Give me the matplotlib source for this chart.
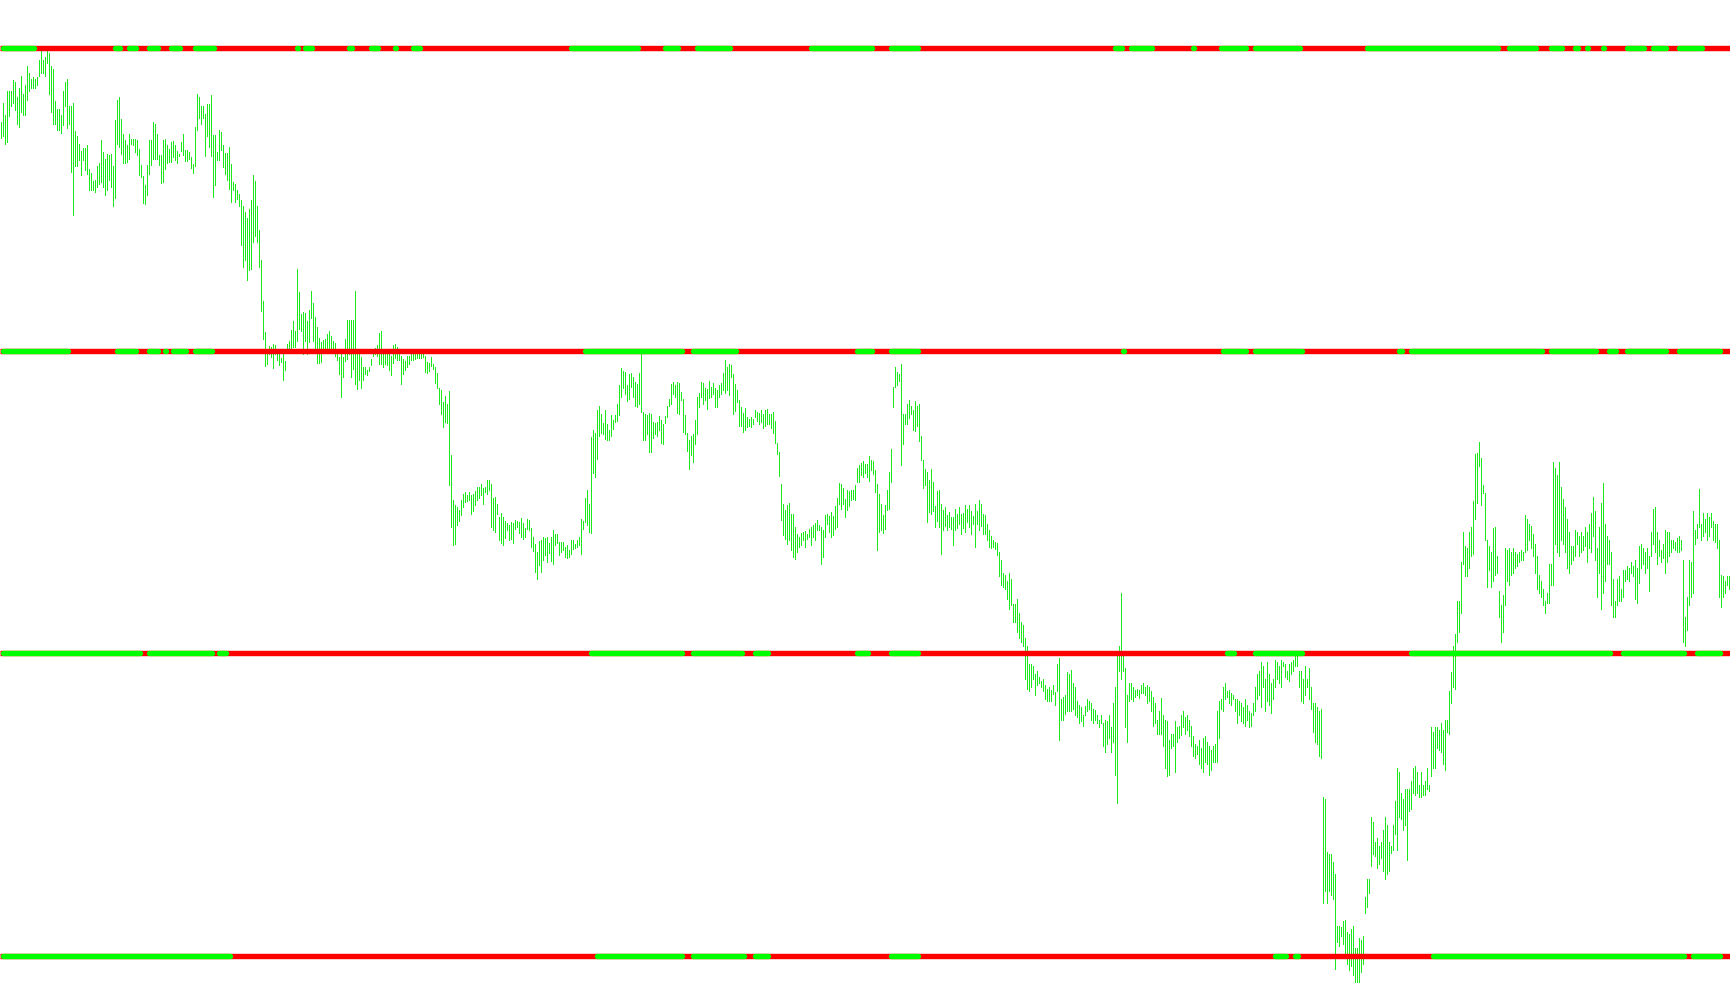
import matplotlib
matplotlib.use("Agg")
import matplotlib.pyplot as plt

# Horizontal level lines (price levels), top to bottom
levels = [400, 300, 200, 100]

# Bar-index ranges where each level line is green (rest is red)
green_runs_400 = [(0, 18), (30, 32), (56, 61), (63, 69), (73, 80), (81, 83), (84, 91), (96, 108),
                  (109, 111), (147, 150), (151, 157), (173, 177), (184, 190), (196, 199), (205, 211),
                  (276, 277), (284, 320), (331, 340), (347, 366), (404, 437), (444, 460), (487, 489),
                  (556, 562), (564, 577), (595, 598), (609, 624), (626, 651), (682, 750), (753, 769),
                  (774, 782), (786, 790), (792, 795), (800, 803), (812, 823), (825, 834), (838, 852)]
green_runs_300 = [(0, 35), (37, 38), (57, 69), (73, 80), (81, 84), (85, 94), (96, 107), (109, 111),
                  (291, 342), (345, 369), (427, 437), (444, 460), (560, 563), (610, 624), (626, 652),
                  (654, 656), (698, 702), (704, 772), (774, 799), (803, 809), (812, 834), (838, 861)]
green_runs_200 = [(0, 71), (73, 107), (108, 114), (294, 342), (345, 372), (376, 385), (427, 435),
                  (444, 460), (560, 561), (612, 618), (626, 652), (654, 656), (698, 700), (704, 806),
                  (810, 843), (847, 861)]
green_runs_100 = [(0, 116), (297, 342), (345, 373), (376, 385), (444, 460), (636, 644), (646, 650),
                  (715, 843), (845, 861)]

# (high, low) of each bar
hl_part1 = [
    (375.6, 370.5), (382, 371), (378, 368.5), (386, 369), (386, 377.6), (386, 381), (389.4, 382), (389, 379.5), (384, 375), (387, 374),
    (391, 379), (385, 378), (388, 378), (394, 383), (392, 386), (390, 387), (390.5, 387), (390, 387), (390.5, 388), (396, 391),
    (399, 392), (396, 392), (397, 391), (399, 395), (398.5, 385), (394, 379), (393, 375), (382.6, 375), (380, 373), (380, 373),
    (378, 372), (386, 374.5), (389, 381), (390, 373.5), (381, 375), (381, 359), (382, 345), (372.6, 361), (371, 361), (368.5, 363),
    (366, 358), (367, 363), (367, 359.7), (368, 358.6), (360, 353), (358.8, 353), (356, 353), (356.4, 352.5), (361, 354), (362, 355),
    (369.8, 355.8), (365.7, 354), (363.5, 351.4), (365, 353), (364.6, 356.6), (365, 354), (361, 348), (376.4, 350.6), (383, 368.5), (384, 367.4),
    (376.7, 365), (371.6, 362), (369.6, 362), (368, 362.4), (371.8, 363.5), (370, 368.5), (370, 368), (370, 365.7), (369.8, 364.6), (366.8, 358),
    (361.3, 357.5), (357.7, 349), (354.7, 348.5), (361.3, 351.4), (369.6, 358.6), (369.8, 361.3), (375.6, 363.5), (375, 363.5), (371.6, 363.5), (364.6, 361.5),
    (364.6, 355.5), (369.6, 355.8), (370, 360), (368, 362), (366.8, 362.4), (369, 362.4), (369.4, 364), (368, 363), (366, 362), (365, 364.3),
    (369, 366), (371.6, 364.6), (366.5, 362.6), (366.5, 362.6), (365.7, 363.5), (364, 360.5), (361.9, 358.8), (374, 361), (384.8, 372.9), (384, 377),
    (381, 375), (380.8, 377), (378.4, 364.3), (381.7, 370.9), (381.5, 367.4), (384.5, 364.3), (371.2, 350.8), (371.2, 354.7), (365.7, 363), (372.9, 363.2),
    (372.3, 366.3), (368, 360.8), (365.4, 358.3), (365.4, 356.6), (367.4, 353.6), (361.9, 349.2), (355.8, 353), (355, 349.2), (353, 350.3), (352, 348),
    (349.8, 335), (348, 327.7), (346, 330), (344, 323.3), (347, 326.6), (350, 327.1), (358, 336), (356, 338), (348, 336), (340, 327.7),
]

hl_part2 = [
    (330.1, 313.1), (316.4, 304.0), (306.2, 294.9), (300.1, 295.7), (301.5, 298.8), (301.2, 297.9), (302.1, 294.4), (301.8, 298.8), (300.4, 296.8), (298.8, 295.2),
    (297.7, 296.3), (299.6, 290.4), (296.6, 293.7), (302.1, 300.4), (303.4, 300.4), (306.8, 299.9), (309.8, 301.2), (306.5, 301.2), (326.9, 303.4), (319.4, 307.3),
    (312.3, 306.5), (312.8, 299.0), (312.5, 303.4), (309.8, 299.0), (313.6, 302.9), (319.8, 310.9), (315.8, 303.4), (311.2, 300.1), (307.9, 295.9), (304.3, 295.9),
    (302.9, 296.3), (303.7, 299.6), (304.0, 299.8), (305.4, 299.6), (306.5, 299.6), (304.8, 300.1), (303.4, 299.6), (302.6, 298.2), (300.4, 296.8), (297.9, 292.4),
    (300.7, 284.7), (297.9, 291.3), (304.0, 296.6), (310.1, 297.4), (310.1, 298.8), (310.1, 291.5), (310.3, 294.1), (319.8, 289.1), (300.1, 287.5), (298.8, 290.4),
    (297.9, 287.8), (294.8, 290.4), (294.6, 292.4), (293.7, 291.9), (294.6, 293.3), (297.4, 295.2), (300.7, 298.2), (301.0, 298.8), (301.8, 298.2), (305.9, 295.7),
    (306.5, 295.5), (299.6, 294.6), (299.6, 295.5), (299.6, 295.2), (300.4, 293.5), (298.2, 291.9), (301.8, 295.9), (302.1, 297.7), (301.2, 296.8), (299.6, 296.8),
    (298.2, 289.1), (297.4, 292.4), (296.6, 293.5), (298.2, 294.6), (298.2, 295.7), (299.0, 296.8), (298.8, 296.8), (299.6, 297.4), (299.0, 297.7), (299.6, 297.7),
    (299.0, 297.7), (299.6, 297.9), (298.2, 293.0), (296.3, 292.6), (295.9, 293.3), (297.9, 294.9), (295.5, 294.1), (294.6, 289.3), (292.6, 287.8), (287.8, 282.5),
    (286.9, 279.2), (283.1, 274.8), (284.9, 276.4), (282.3, 276.1), (286.7, 255.7), (265.4, 241.9), (250.6, 235.7), (248.9, 236.2), (248.3, 242.3), (247.5, 243.9),
    (250.6, 245.6), (252.5, 248.3), (253.3, 250.0), (252.2, 250.3), (253.3, 250.8), (252.2, 246.1), (252.8, 247.2), (253.6, 248.9), (255.0, 250.6), (255.0, 251.4),
    (256.1, 252.2), (254.7, 249.4), (255.0, 253.3), (257.2, 252.5), (257.4, 253.9), (256.1, 241.7), (251.4, 240.6), (251.7, 240.1), (249.4, 246.1), (245.0, 237.3),
    (246.4, 236.4), (245.0, 235.7), (243.7, 238.2), (243.1, 240.6), (242.3, 237.5), (243.4, 237.9), (243.1, 236.4), (244.2, 241.2), (243.7, 241.7), (243.4, 239.7),
    (244.8, 238.6), (243.1, 237.9), (241.5, 238.4), (244.5, 241.2), (244.2, 240.6), (241.5, 235.1), (238.4, 233.8), (236.2, 226.9), (233.5, 224.7), (237.1, 229.1),
    (237.3, 226.9), (238.4, 230.7), (238.2, 232.4), (238.6, 230.2), (236.4, 233.1), (238.6, 230.5), (240.8, 229.6), (239.3, 235.7), (239.5, 236.4), (236.8, 232.4),
    (236.8, 233.5), (236.8, 234.2), (235.3, 231.8), (235.7, 231.6), (234.2, 232.0), (237.5, 232.7), (237.3, 234.6), (236.2, 234.9), (237.5, 235.1), (238.4, 235.7),
    (244.5, 232.7), (243.9, 241.2), (251.4, 243.4), (253.9, 242.3), (249.4, 240.1), (271.5, 239.7), (273.9, 259.6), (272.8, 258.3), (280.3, 264.3), (281.9, 272.0),
    (279.2, 272.8), (276.1, 272.4), (280.3, 270.8), (275.9, 270.6), (273.7, 270.4), (278.7, 272.0), (277.0, 274.2), (278.7, 276.4), (282.3, 276.8), (288.6, 278.7),
    (294.4, 284.7), (293.3, 287.8), (293.0, 285.8), (288.6, 283.4), (292.4, 284.2), (292.6, 288.0), (291.3, 284.7), (289.7, 281.9), (289.1, 281.4), (292.6, 282.3),
    (299.0, 279.8), (279.8, 270.6), (279.2, 270.4), (278.7, 272.4), (279.4, 266.5), (279.2, 266.5), (276.4, 271.3), (276.1, 272.4), (276.4, 272.0), (278.3, 273.7),
    (277.0, 269.5), (275.7, 269.3), (278.3, 276.1), (281.6, 278.1), (284.2, 281.9), (289.1, 282.5), (289.7, 285.8), (288.6, 284.7), (289.7, 279.4), (289.3, 279.0),
    (286.4, 283.6), (284.2, 273.1), (278.7, 272.6), (272.8, 266.9), (270.4, 261.0), (272.0, 265.4), (272.4, 263.2), (277.2, 269.3), (284.7, 272.4), (286.0, 281.4),
    (289.7, 284.7), (289.3, 282.3), (287.8, 283.8), (287.5, 280.9), (290.0, 284.5), (288.0, 284.7), (289.3, 285.8), (287.8, 281.4), (286.9, 281.4), (288.6, 284.7),
    (289.3, 285.8), (292.6, 287.1), (297.1, 286.0), (294.6, 286.9), (295.7, 285.3), (295.2, 291.3), (292.2, 279.2), (289.1, 280.1), (286.9, 283.1), (283.8, 275.3),
    (281.4, 275.3), (279.4, 273.1), (281.2, 273.7), (278.1, 274.8), (277.5, 275.3), (278.1, 274.8), (277.5, 275.7), (280.5, 278.1), (279.8, 276.8), (279.4, 275.9),
    (280.3, 276.4), (279.0, 274.6), (280.5, 275.3), (280.9, 275.9), (279.0, 275.9), (279.2, 274.6), (279.8, 272.8), (276.8, 269.5), (269.5, 266.0), (266.5, 258.5),
    (256.1, 244.2), (249.2, 239.0), (247.5, 237.9), (248.9, 236.2), (249.7, 237.3), (246.1, 234.0), (245.9, 232.0), (241.7, 231.3), (239.5, 233.5), (238.4, 235.1),
    (239.7, 235.7), (240.1, 237.3), (240.4, 235.1), (239.3, 237.9), (241.2, 238.4), (241.7, 235.7), (242.3, 238.6), (243.1, 237.5), (244.2, 240.9), (242.3, 240.6),
    (241.7, 229.6), (240.6, 231.8), (245.6, 238.4), (246.1, 242.6), (245.3, 240.1), (246.7, 238.4), (245.3, 239.0), (248.6, 241.2), (251.4, 241.7), (256.3, 249.4),
    (256.1, 247.8), (254.7, 249.4), (251.1, 245.0), (254.1, 247.5), (253.6, 248.6), (254.1, 250.6), (253.9, 251.1), (255.5, 250.6), (261.3, 256.6), (262.1, 256.6),
    (262.9, 259.1), (263.6, 258.3), (262.7, 259.6), (262.7, 258.3), (265.1, 256.9), (264.0, 260.5), (263.6, 259.4), (260.5, 253.3), (256.1, 234.0), (252.8, 240.1),
    (249.4, 240.6), (245.6, 239.7), (248.9, 241.2), (253.9, 247.5), (259.9, 247.8), (267.6, 256.6), (288.0, 281.4), (294.6, 288.0), (293.0, 288.6), (292.2, 290.0),
    (295.7, 262.1), (279.2, 269.3), (279.0, 275.7), (282.3, 275.9), (283.8, 277.9), (281.9, 279.2), (280.5, 273.7), (283.4, 273.5), (281.9, 275.3), (282.3, 270.2),
    (272.0, 263.8), (264.0, 254.7), (261.0, 255.5), (259.9, 243.4), (257.4, 246.7), (261.0, 246.1), (256.6, 247.2), (248.6, 241.7), (253.6, 243.9), (254.1, 241.7),
    (249.4, 232.7), (247.5, 240.8), (248.3, 242.0), (245.6, 240.6), (246.7, 241.7), (245.0, 241.2), (245.0, 235.7), (247.8, 240.6), (246.1, 241.5), (248.3, 242.8),
    (246.1, 239.5), (246.4, 241.5), (248.9, 240.1), (247.8, 243.4), (248.9, 241.7), (247.2, 239.5), (245.3, 242.8), (249.4, 235.3), (247.2, 242.6), (250.6, 240.6),
    (249.4, 242.0), (246.1, 239.5), (245.6, 239.3), (242.8, 237.3), (240.6, 235.1),
]

hl_part3 = [
    (238.9, 234.8), (237.5, 235.1), (236.8, 234.5), (236.4, 232.4), (233.5, 225.4),
    (230.8, 222.7), (226.7, 222.0), (226.0, 221.3), (224.0, 218.0), (226.7, 214.6), (224.7, 215.9),
    (216.3, 210.5), (216.2, 210.5), (218.0, 207.1), (213.2, 205.1), (210.5, 203.8), (209.2, 202.4),
    (205.1, 191.6), (202.4, 188.3),
    (196.4, 187.6), (196.4, 188.9), (195.7, 191.6), (193.3, 186.2), (194.3, 189.6),
    (192.3, 190.3), (191.0, 188.9), (191.6, 187.6), (189.6, 184.9), (188.3, 184.2), (188.9, 184.2), (187.9, 184.2),
    (189.6, 186.5), (187.2, 182.9), (196.4, 187.6), (198.3, 171.4), (184.9, 178.1), (185.6, 178.1), (186.2, 180.1),
    (193.7, 180.8), (193.0, 180.8), (194.6, 180.8), (190.3, 181.5), (188.9, 179.5), (184.2, 178.8), (182.9, 176.8), (182.2, 177.5), (179.5, 176.1),
    (182.5, 179.5), (184.9, 180.8), (184.2, 181.5), (183.5, 178.1), (181.5, 176.8), (181.1, 178.1), (179.5, 176.8), (178.1, 175.5), (179.5, 176.8), (177.1, 169.4), (178.1, 167.4), (177.5, 170.1), (179.5, 172.1), (175.5, 167.4),
    (183.5, 170.7), (188.9, 159.9), (199.7, 150.5), (202.4, 194.3), (220.0, 191.6), (199.1, 194.3),
    (195.0, 175.5), (186.2, 170.7), (190.3, 184.2), (190.3, 184.9), (188.9, 184.2), (187.9, 185.6), (188.3, 186.2), (187.9, 185.2), (189.6, 186.9), (190.3, 186.9), (188.9, 186.2),
    (189.6, 183.5), (188.9, 184.2), (187.6, 180.8), (185.6, 176.1), (183.5, 176.8), (178.1, 173.4), (180.8, 173.4), (185.3, 173.4), (179.5, 169.4),
    (178.1, 162.0), (177.5, 159.3), (171.4, 159.9), (173.4, 168.7), (173.4, 169.4), (177.5, 160.6), (175.5, 170.7), (176.1, 172.1), (179.5, 173.0), (180.8, 175.5), (178.8, 173.4), (179.5, 174.8),
    (178.1, 172.7), (176.1, 169.4), (172.7, 166.0), (170.1, 165.3), (169.4, 166.7), (171.4, 163.3), (168.7, 162.0), (172.1, 160.6), (172.7, 164.0), (170.7, 163.3), (169.4, 159.9), (168.0, 161.3), (169.4, 164.0), (170.1, 164.0),
    (180.8, 164.0), (184.2, 172.1), (184.9, 181.5), (188.9, 180.8), (190.3, 184.9), (187.6, 185.6), (187.9, 183.5), (186.9, 182.9), (186.2, 184.9), (184.9, 180.8),
    (184.9, 176.8), (184.2, 179.5), (183.5, 177.5), (182.2, 176.8), (184.9, 176.1), (182.9, 178.1), (180.8, 175.5), (180.2, 176.1), (183.5, 179.5),
    (188.9, 180.8), (193.0, 184.9), (194.3, 186.2), (197.0, 182.2), (195.7, 188.9), (191.6, 180.8), (197.0, 184.2), (193.0, 182.9), (190.3, 180.2), (191.6, 184.9),
    (197.7, 188.9), (197.0, 191.6), (195.7, 190.3), (197.7, 188.9), (197.0, 195.7), (196.4, 192.3), (194.3, 191.6), (196.4, 191.0), (197.0, 193.0),
    (197.7, 194.3), (199.5, 195.7), (199.7, 195.7), (194.3, 188.9), (194.3, 184.2), (191.6, 183.5), (195.7, 186.2),
    (191.6, 188.9), (195.0, 184.9), (188.9, 181.5), (183.5, 174.1), (183.5, 170.7), (182.2, 170.1), (180.8, 166.0), (181.5, 165.3), (152.5, 117.5), (151.8, 121.5),
    (134.3, 117.5), (133.6, 121.5), (133.6, 120.1), (130.9, 118.8), (126.9, 95.8),
    (110.0, 104.6), (110.0, 103.3), (109.4, 106.7), (111.4, 103.9), (112.0, 99.2), (108.0, 97.2), (107.3, 95.2), (108.7, 96.5), (110.0, 93.8), (102.6, 91.2), (102.6, 91.2), (106.0, 91.2), (105.3, 94.5),
    (106.7, 97.2), (119.5, 114.1), (125.5, 116.1), (125.5, 120.8), (145.8, 129.6), (144.4, 133.6), (137.7, 132.9), (139.0, 128.9), (136.3, 130.3), (137.7, 132.3),
    (141.7, 128.2), (145.8, 125.5), (143.1, 126.9), (137.7, 128.2), (136.3, 134.0), (143.1, 135.0), (151.2, 140.4), (162.0, 135.0), (160.6, 145.8),
    (153.9, 145.1), (151.8, 141.7), (155.2, 143.1), (155.2, 131.6), (155.2, 147.8), (157.9, 148.5), (162.0, 153.9),
    (162.6, 153.2), (160.6, 153.9), (156.6, 152.5), (160.6, 152.5), (156.6, 153.2), (157.9, 153.2), (162.0, 155.2), (156.6, 154.5), (175.5, 159.3), (174.1, 162.0),
    (175.5, 162.0), (175.5, 168.7), (174.8, 168.0), (176.8, 167.4), (174.8, 163.3), (178.1, 161.3), (178.1, 174.1), (187.6, 173.4),
    (193.7, 183.5), (202.4, 188.9), (206.5, 188.3), (217.3, 203.8), (217.3, 207.2), (230.1, 213.2),
    (240.2, 229.4), (235.5, 225.4), (234.8, 225.4), (240.2, 228.1), (241.6, 232.1), (250.3, 232.8), (265.8, 244.3),
    (266.1, 249.6), (269.9, 261.8), (264.5, 249.0), (255.7, 253.0), (253.0, 237.5),
    (237.5, 222.0), (235.5, 227.4), (233.5, 222.0), (241.3, 224.0), (241.6, 226.0), (232.1, 226.7), (220.6, 211.9), (215.9, 203.8), (219.3, 207.2),
    (234.8, 215.9), (234.1, 224.0), (234.8, 222.7), (233.5, 226.0), (234.8, 226.7), (233.5, 228.1), (232.8, 228.7), (233.5, 230.1), (234.1, 230.8), (233.5, 230.8), (245.6, 233.5), (244.3, 234.1),
    (242.9, 237.5), (242.2, 234.8), (239.5, 232.1), (236.2, 226.7), (232.1, 221.3), (226.0, 220.0), (224.0, 218.6), (221.3, 215.9), (217.3, 213.2), (220.0, 216.6), (229.4, 216.6), (229.4, 222.7),
    (263.1, 222.7), (261.1, 236.2), (259.1, 233.5), (263.1, 232.1), (255.0, 237.5), (251.0, 236.2), (248.3, 233.5), (244.3, 228.1), (240.2, 226.7),
    (235.5, 229.4), (235.5, 230.8), (240.9, 232.1), (240.2, 236.2), (238.9, 232.1), (240.2, 233.5), (238.9, 234.1), (241.6, 235.5), (240.2, 230.1), (242.9, 234.8), (246.3, 233.5), (251.7, 238.9),
    (246.9, 230.8), (234.8, 218.6), (241.6, 226.7), (249.6, 214.6), (256.4, 220.0), (242.9, 224.0), (238.9, 229.4), (237.5, 229.4), (233.5, 215.9), (224.7, 211.9),
    (217.3, 211.9), (224.7, 215.9), (225.4, 217.3), (221.3, 217.3), (227.4, 218.6), (227.4, 224.0), (228.7, 224.7), (228.1, 224.0), (230.1, 226.7), (228.7, 225.4), (230.8, 218.0),
    (228.1, 216.6), (235.5, 223.3), (236.2, 228.1), (234.8, 229.4), (233.5, 226.7), (234.8, 228.1), (232.1, 220.6), (240.2, 232.1), (247.6, 236.2), (248.3, 233.5),
    (240.2, 229.4), (237.5, 232.1), (234.1, 230.1), (236.2, 231.4), (240.9, 226.7), (240.2, 230.1), (240.2, 232.1), (237.5, 233.5), (237.5, 234.8),
    (236.8, 234.1), (238.2, 233.5), (238.9, 233.5), (237.5, 234.1), (231.0, 203.8), (211.9, 202.4), (218.6, 207.8),
    (230.8, 215.9), (230.1, 218.6), (246.9, 220.0), (240.9, 236.2), (242.9, 238.2), (254.4, 241.6), (242.9, 237.5), (246.3, 238.9), (244.3, 240.2), (246.3, 237.5),
    (244.9, 238.9), (246.3, 241.6), (243.6, 237.5), (242.9, 236.8), (242.9, 234.8), (237.5, 218.6), (226.0, 215.3), (225.4, 218.6), (224.0, 220.0), (225.6, 222.7), (225.4, 221.3),
]

high_low = hl_part1 + hl_part2 + hl_part3
highs = [h for h, l in high_low]
lows = [l for h, l in high_low]
n = len(high_low)
green_runs = {400: green_runs_400, 300: green_runs_300, 200: green_runs_200, 100: green_runs_100}

BAR_GREEN = "#1CE81C"
LINE_GREEN = "#00FF00"
LINE_RED = "#FF0000"

fig = plt.figure(figsize=(17.3, 10.05), dpi=100)
fig.patch.set_facecolor("white")
ax = fig.add_axes([0, 0, 1, 1])
ax.set_xlim(-0.5, n - 0.5)
ax.set_ylim(83.74, 415.97)
ax.axis("off")

ax.vlines(range(n), lows, highs, colors=BAR_GREEN, linewidth=0.66, antialiased=False, zorder=2)

lw = 3.9
for lev in levels:
    ax.plot([-0.5, n - 0.5], [lev, lev], color=LINE_RED, lw=lw, solid_capstyle="butt", zorder=3)
    for a, b in green_runs[lev]:
        xs, xe = a + 0.75, b - 1.75
        if xe <= xs:
            mid = (a + b) / 2.0 - 0.5
            xs, xe = mid - 0.01, mid + 0.01
        ax.plot([xs, xe], [lev, lev], color=LINE_GREEN, lw=lw, solid_capstyle="round", zorder=4)

fig.savefig("out.png", dpi=100, facecolor="white")
